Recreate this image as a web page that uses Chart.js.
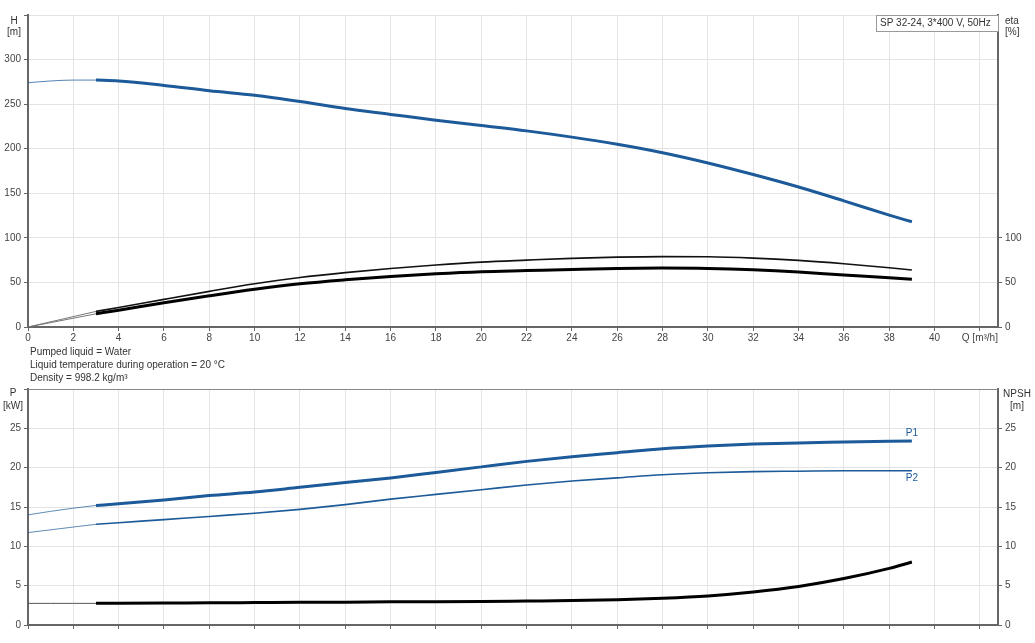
<!DOCTYPE html>
<html>
<head>
<meta charset="utf-8">
<script src="https://cdn.jsdelivr.net/npm/chart.js@4.4.1/dist/chart.umd.min.js"></script>
<style>
    body { margin: 0; background: #fff; font-family: "Liberation Sans", Arial, sans-serif; }
    #wrap { position: relative; width: 1035px; height: 643px; }
    #topChart { position: absolute; left: 0; top: 0; }
    #bottomChart { position: absolute; left: 0; top: 380px; }
    #info { position: absolute; left: 30px; top: 345px; font-size: 10px; line-height: 13px; color: #333; }
</style>
</head>
<body>
<div id="wrap">
    <canvas id="topChart" width="1035" height="350"></canvas>
    <div id="info">
        <div>Pumped liquid = Water</div>
        <div>Liquid temperature during operation = 20 °C</div>
        <div>Density = 998.2 kg/m³</div>
    </div>
    <canvas id="bottomChart" width="1035" height="263"></canvas>
</div>
<script>
// Flow values (m³/h)
const qStart = [0, 1, 2, 3];
const qCurve = [3, 4, 6, 8, 10, 12, 14, 16, 18, 20, 22, 24, 26, 28, 30, 32, 34, 36, 38, 39];

// Head H [m]
const headStart = [274, 276, 277, 277];
const head = [277, 276, 271, 265, 260, 253, 245, 238.5, 232, 226, 220, 213, 205, 195.5, 184, 171, 157, 141.5, 125.5, 118];

// Efficiency eta [%]
const etaStartQ = [0, 3];
const etaTotalStart = [0, 17.5];
const etaPumpStart = [0, 14.8];
const etaTotal = [17.5, 21.8, 31, 40, 48.5, 55.5, 61, 65.7, 69.6, 72.8, 75, 77, 78.4, 79, 78.8, 77.3, 74.7, 71, 66.5, 64];
const etaPump = [14.8, 18.9, 27.2, 35, 42.3, 48.5, 53, 56.7, 59.7, 62, 63.3, 64.6, 65.7, 66.1, 65.7, 64.2, 61.7, 58.3, 55.3, 53.5];

// Power P [kW]
const p1Start = [14, 14.45, 14.85, 15.2];
const p2Start = [11.75, 12.1, 12.45, 12.8];
const p1 = [15.2, 15.4, 15.9, 16.45, 16.9, 17.5, 18.1, 18.7, 19.4, 20.1, 20.8, 21.4, 21.9, 22.4, 22.75, 23.0, 23.15, 23.25, 23.35, 23.4];
const p2 = [12.8, 13.0, 13.4, 13.8, 14.2, 14.7, 15.3, 16.0, 16.6, 17.2, 17.8, 18.3, 18.7, 19.1, 19.35, 19.5, 19.55, 19.6, 19.6, 19.6];

// NPSH [m]
const npshStart = [2.75, 2.75, 2.75, 2.75];
const npsh = [2.75, 2.77, 2.8, 2.82, 2.85, 2.88, 2.9, 2.95, 2.97, 3.0, 3.05, 3.1, 3.2, 3.4, 3.7, 4.2, 4.9, 5.9, 7.2, 8.0];

const qTicksTop = 42.8;
const blue = "#1c5a99";
const gridColor = "#e4e4e4";
const axisColor = "#666";
const tickFont = { family: "Liberation Sans", size: 10 };

function pts(xs, ys) {
    return xs.map((x, i) => ({ x: x, y: ys[i] }));
}

function line(data, color, width) {
    return {
        data: data,
        borderColor: color,
        borderWidth: width,
        pointRadius: 0,
        fill: false,
        cubicInterpolationMode: "monotone"
    };
}

function xAxis(showLabels, height) {
    return {
        type: "linear",
        min: 0,
        max: qTicksTop,
        grid: { color: gridColor, tickColor: axisColor, tickLength: 4 },
        border: { color: axisColor, width: 2 },
        ticks: {
            stepSize: 2,
            includeBounds: false,
            maxRotation: 0,
            autoSkip: false,
            padding: 1,
            color: "#444",
            font: tickFont,
            callback: function (v) {
                if (!showLabels) return "";
                return v === 42 ? "Q [m³/h]" : v;
            }
        },
        afterFit: function (scale) { scale.height = height; }
    };
}

function yAxis(pos, max, step, width, maxLabel, drawGrid) {
    return {
        type: "linear",
        position: pos,
        min: 0,
        max: max,
        grid: { color: gridColor, tickColor: axisColor, tickLength: 4, drawOnChartArea: drawGrid },
        border: { color: axisColor, width: 2 },
        ticks: {
            stepSize: step,
            padding: 3,
            color: "#444",
            font: tickFont,
            callback: function (v) { return v > maxLabel ? "" : v; }
        },
        afterBuildTicks: function (scale) {
            if (!drawGrid) scale.ticks = scale.ticks.filter(t => t.value <= maxLabel);
        },
        afterFit: function (scale) { scale.width = width; }
    };
}

// plugin for axis titles and other text drawn on the canvas
function textPlugin(draw) {
    return {
        id: "texts",
        afterDraw: function (chart) {
            const ctx = chart.ctx;
            ctx.save();
            ctx.font = "10px 'Liberation Sans'";
            ctx.fillStyle = "#333";
            ctx.textBaseline = "middle";
            draw(ctx, chart);
            ctx.restore();
        }
    };
}

// Top chart: H and eta
new Chart(document.getElementById("topChart"), {
    type: "line",
    data: {
        datasets: [
            Object.assign(line(pts(qStart, headStart), "rgba(28,90,153,0.75)", 1), { yAxisID: "y" }),
            Object.assign(line(pts(qCurve, head), blue, 3), { yAxisID: "y" }),
            Object.assign(line(pts(etaStartQ, etaTotalStart), "#777", 1), { yAxisID: "eta" }),
            Object.assign(line(pts(etaStartQ, etaPumpStart), "#777", 1), { yAxisID: "eta" }),
            Object.assign(line(pts(qCurve, etaTotal), "#111", 1.6), { yAxisID: "eta" }),
            Object.assign(line(pts(qCurve, etaPump), "#000", 3), { yAxisID: "eta" })
        ]
    },
    options: {
        responsive: false,
        animation: false,
        layout: { padding: { top: 15, left: 0, right: 0, bottom: 0 } },
        plugins: { legend: { display: false }, tooltip: { enabled: false } },
        scales: {
            x: xAxis(true, 23),
            y: yAxis("left", 350, 50, 28, 300, true),
            eta: yAxis("right", 350, 50, 37, 100, false)
        }
    },
    plugins: [textPlugin(function (ctx, chart) {
        ctx.textAlign = "center";
        ctx.fillText("H", 14, 21);
        ctx.fillText("[m]", 14, 32);
        ctx.textAlign = "left";
        ctx.fillText("eta", 1005, 21);
        ctx.fillText("[%]", 1005, 32);
        // type label box
        const area = chart.chartArea;
        ctx.fillStyle = "#fff";
        ctx.fillRect(area.right - 122, area.top, 122, 17);
        ctx.strokeStyle = "#999";
        ctx.lineWidth = 1;
        ctx.strokeRect(area.right - 121.5, area.top + 0.5, 122, 16);
        ctx.fillStyle = "#333";
        ctx.fillText("SP 32-24, 3*400 V, 50Hz", area.right - 118, area.top + 8.5);
    })]
});

// Bottom chart: P1, P2 and NPSH
new Chart(document.getElementById("bottomChart"), {
    type: "line",
    data: {
        datasets: [
            Object.assign(line(pts(qStart, p1Start), "rgba(28,90,153,0.7)", 1), { yAxisID: "y" }),
            Object.assign(line(pts(qStart, p2Start), "rgba(28,90,153,0.7)", 1), { yAxisID: "y" }),
            Object.assign(line(pts(qCurve, p1), blue, 3), { yAxisID: "y" }),
            Object.assign(line(pts(qCurve, p2), blue, 1.6), { yAxisID: "y" }),
            Object.assign(line(pts(qStart, npshStart), "#555", 1), { yAxisID: "npsh" }),
            Object.assign(line(pts(qCurve, npsh), "#000", 3), { yAxisID: "npsh" })
        ]
    },
    options: {
        responsive: false,
        animation: false,
        layout: { padding: { top: 9, left: 0, right: 0, bottom: 0 } },
        plugins: { legend: { display: false }, tooltip: { enabled: false } },
        scales: {
            x: xAxis(false, 18),
            y: yAxis("left", 30, 5, 28, 25, true),
            npsh: yAxis("right", 30, 5, 37, 25, false)
        }
    },
    plugins: [textPlugin(function (ctx, chart) {
        const area = chart.chartArea;
        ctx.strokeStyle = "#888";
        ctx.lineWidth = 1;
        ctx.beginPath();
        ctx.moveTo(area.left, area.top + 0.5);
        ctx.lineTo(area.right, area.top + 0.5);
        ctx.stroke();
        ctx.textAlign = "center";
        ctx.fillText("P", 13, 13);
        ctx.fillText("[kW]", 13, 26);
        ctx.fillText("NPSH", 1017, 14);
        ctx.fillText("[m]", 1017, 26);
        // curve labels at the end of P1 and P2
        const xs = chart.scales.x, ys = chart.scales.y;
        const last = qCurve.length - 1;
        ctx.fillStyle = blue;
        ctx.fillText("P1", xs.getPixelForValue(qCurve[last]), ys.getPixelForValue(p1[last]) - 8);
        ctx.fillText("P2", xs.getPixelForValue(qCurve[last]), ys.getPixelForValue(p2[last]) + 7);
    })]
});
</script>
</body>
</html>
